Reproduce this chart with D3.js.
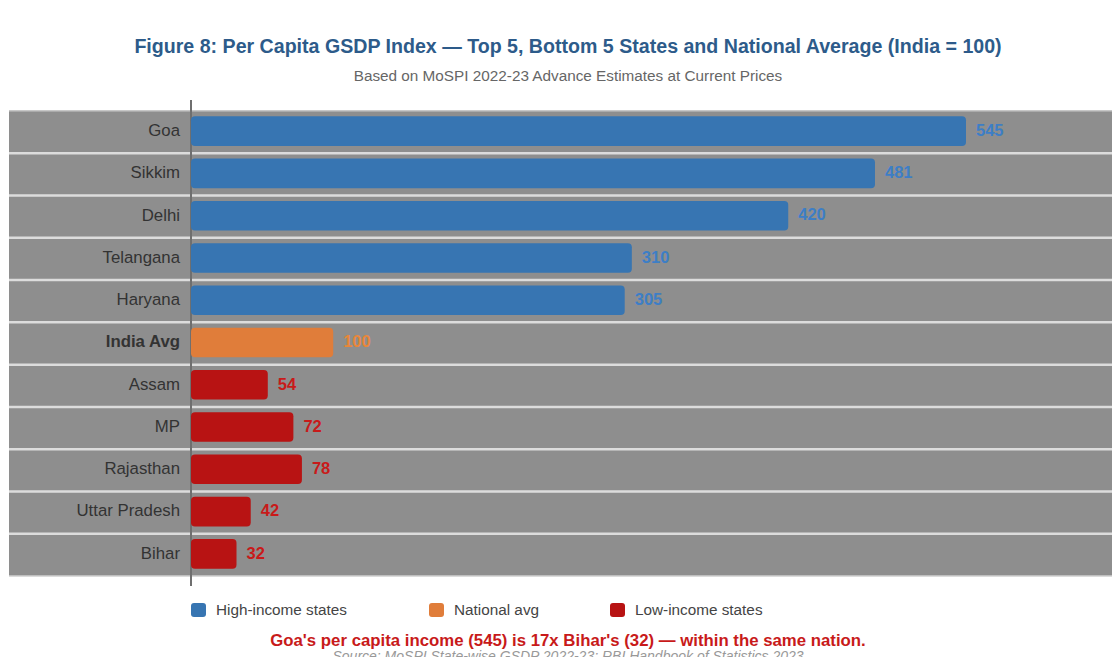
<!DOCTYPE html>
<html><head><meta charset="utf-8">
<script src="https://cdn.jsdelivr.net/npm/d3@7"></script>
<style>body{margin:0;background:#fff;font-family:"Liberation Sans",Arial,sans-serif;}</style>
</head><body><svg id="c" width="1112" height="657"></svg>
<script>
const categories = ["Goa","Sikkim","Delhi","Telangana","Haryana","India Avg","Assam","MP","Rajasthan","Uttar Pradesh","Bihar"];
const values = [545,481,420,310,305,100,54,72,78,42,32];
const groups = ["high","high","high","high","high","nat","low","low","low","low","low"];
const legendLabels = ["High-income states","National avg","Low-income states"];
const legendKeys = ["high","nat","low"];

const barColor = {high:"#3775b2", nat:"#e07d3a", low:"#b81313"};
const textColor = {high:"#3d7ec6", nat:"#e8873a", low:"#c81a1a"};

const svg = d3.select("#c");
const x = d3.scaleLinear().domain([0,545]).range([191,966]);
const y = d3.scaleBand().domain(categories).range([111,576]).paddingInner(0).paddingOuter(0);

svg.append("text").attr("x",568).attr("y",53).attr("text-anchor","middle")
  .attr("font-size",19.6).attr("font-weight","bold").attr("fill","#2d5b8a")
  .text("Figure 8: Per Capita GSDP Index — Top 5, Bottom 5 States and National Average (India = 100)");
svg.append("text").attr("x",568).attr("y",81).attr("text-anchor","middle")
  .attr("font-size",15.3).attr("fill","#666")
  .text("Based on MoSPI 2022-23 Advance Estimates at Current Prices");

// background bands
svg.append("g").selectAll("rect").data(categories).join("rect")
  .attr("x",9).attr("width",1112-9).attr("y",d=>y(d)).attr("height",y.bandwidth())
  .attr("fill","#8e8e8e");
svg.append("g").selectAll("line").data(categories.slice(1)).join("line")
  .attr("x1",9).attr("x2",1112).attr("y1",d=>y(d)).attr("y2",d=>y(d))
  .attr("stroke","#dcdcdc").attr("stroke-width",2.5);
svg.append("line").attr("x1",9).attr("x2",1112).attr("y1",111).attr("y2",111).attr("stroke","#b5b5b5").attr("stroke-width",1.5);
svg.append("line").attr("x1",9).attr("x2",1112).attr("y1",576).attr("y2",576).attr("stroke","#cfcfcf").attr("stroke-width",1.5);

// axis line
svg.append("line").attr("x1",191).attr("x2",191).attr("y1",100).attr("y2",586)
  .attr("stroke","#6f6f6f").attr("stroke-width",2);

const yInner = d3.scaleBand().domain(categories).range([110,575]).paddingInner(0.3).paddingOuter(0.15);

// bars
svg.append("g").selectAll("rect").data(categories).join("rect")
  .attr("x",x(0)).attr("y",d=>yInner(d)).attr("height",yInner.bandwidth())
  .attr("width",(d,i)=>x(values[i])-x(0)).attr("rx",4)
  .attr("fill",(d,i)=>barColor[groups[i]]);

// category labels
svg.append("g").selectAll("text").data(categories).join("text")
  .attr("x",180).attr("y",d=>y(d)+y.bandwidth()/2-2).attr("dy","0.35em")
  .attr("text-anchor","end").attr("font-size",16.8)
  .attr("font-weight",d=>d==="India Avg"?"bold":"normal")
  .attr("fill","#333").text(d=>d);

// value labels
svg.append("g").selectAll("text").data(categories).join("text")
  .attr("x",(d,i)=>x(values[i])+10).attr("y",d=>y(d)+y.bandwidth()/2-2).attr("dy","0.35em")
  .attr("font-size",16.5).attr("font-weight","bold")
  .attr("fill",(d,i)=>textColor[groups[i]]).text((d,i)=>values[i]);

// legend
const legX = [191,429,610];
const lg = svg.append("g").selectAll("g").data(legendKeys).join("g")
  .attr("transform",(d,i)=>`translate(${legX[i]},603)`);
lg.append("rect").attr("width",15).attr("height",14).attr("rx",3).attr("fill",d=>barColor[d]);
lg.append("text").attr("x",25).attr("y",7).attr("dy","0.35em").attr("font-size",15.3).attr("fill","#444")
  .text((d,i)=>legendLabels[i]);

svg.append("text").attr("x",568).attr("y",646).attr("text-anchor","middle")
  .attr("font-size",16.8).attr("font-weight","bold").attr("fill","#c81a1a")
  .text("Goa's per capita income (545) is 17x Bihar's (32) — within the same nation.");
svg.append("text").attr("x",568).attr("y",661).attr("text-anchor","middle")
  .attr("font-size",14).attr("font-style","italic").attr("fill","#999")
  .text("Source: MoSPI State-wise GSDP 2022-23; RBI Handbook of Statistics 2023");
</script></body></html>
